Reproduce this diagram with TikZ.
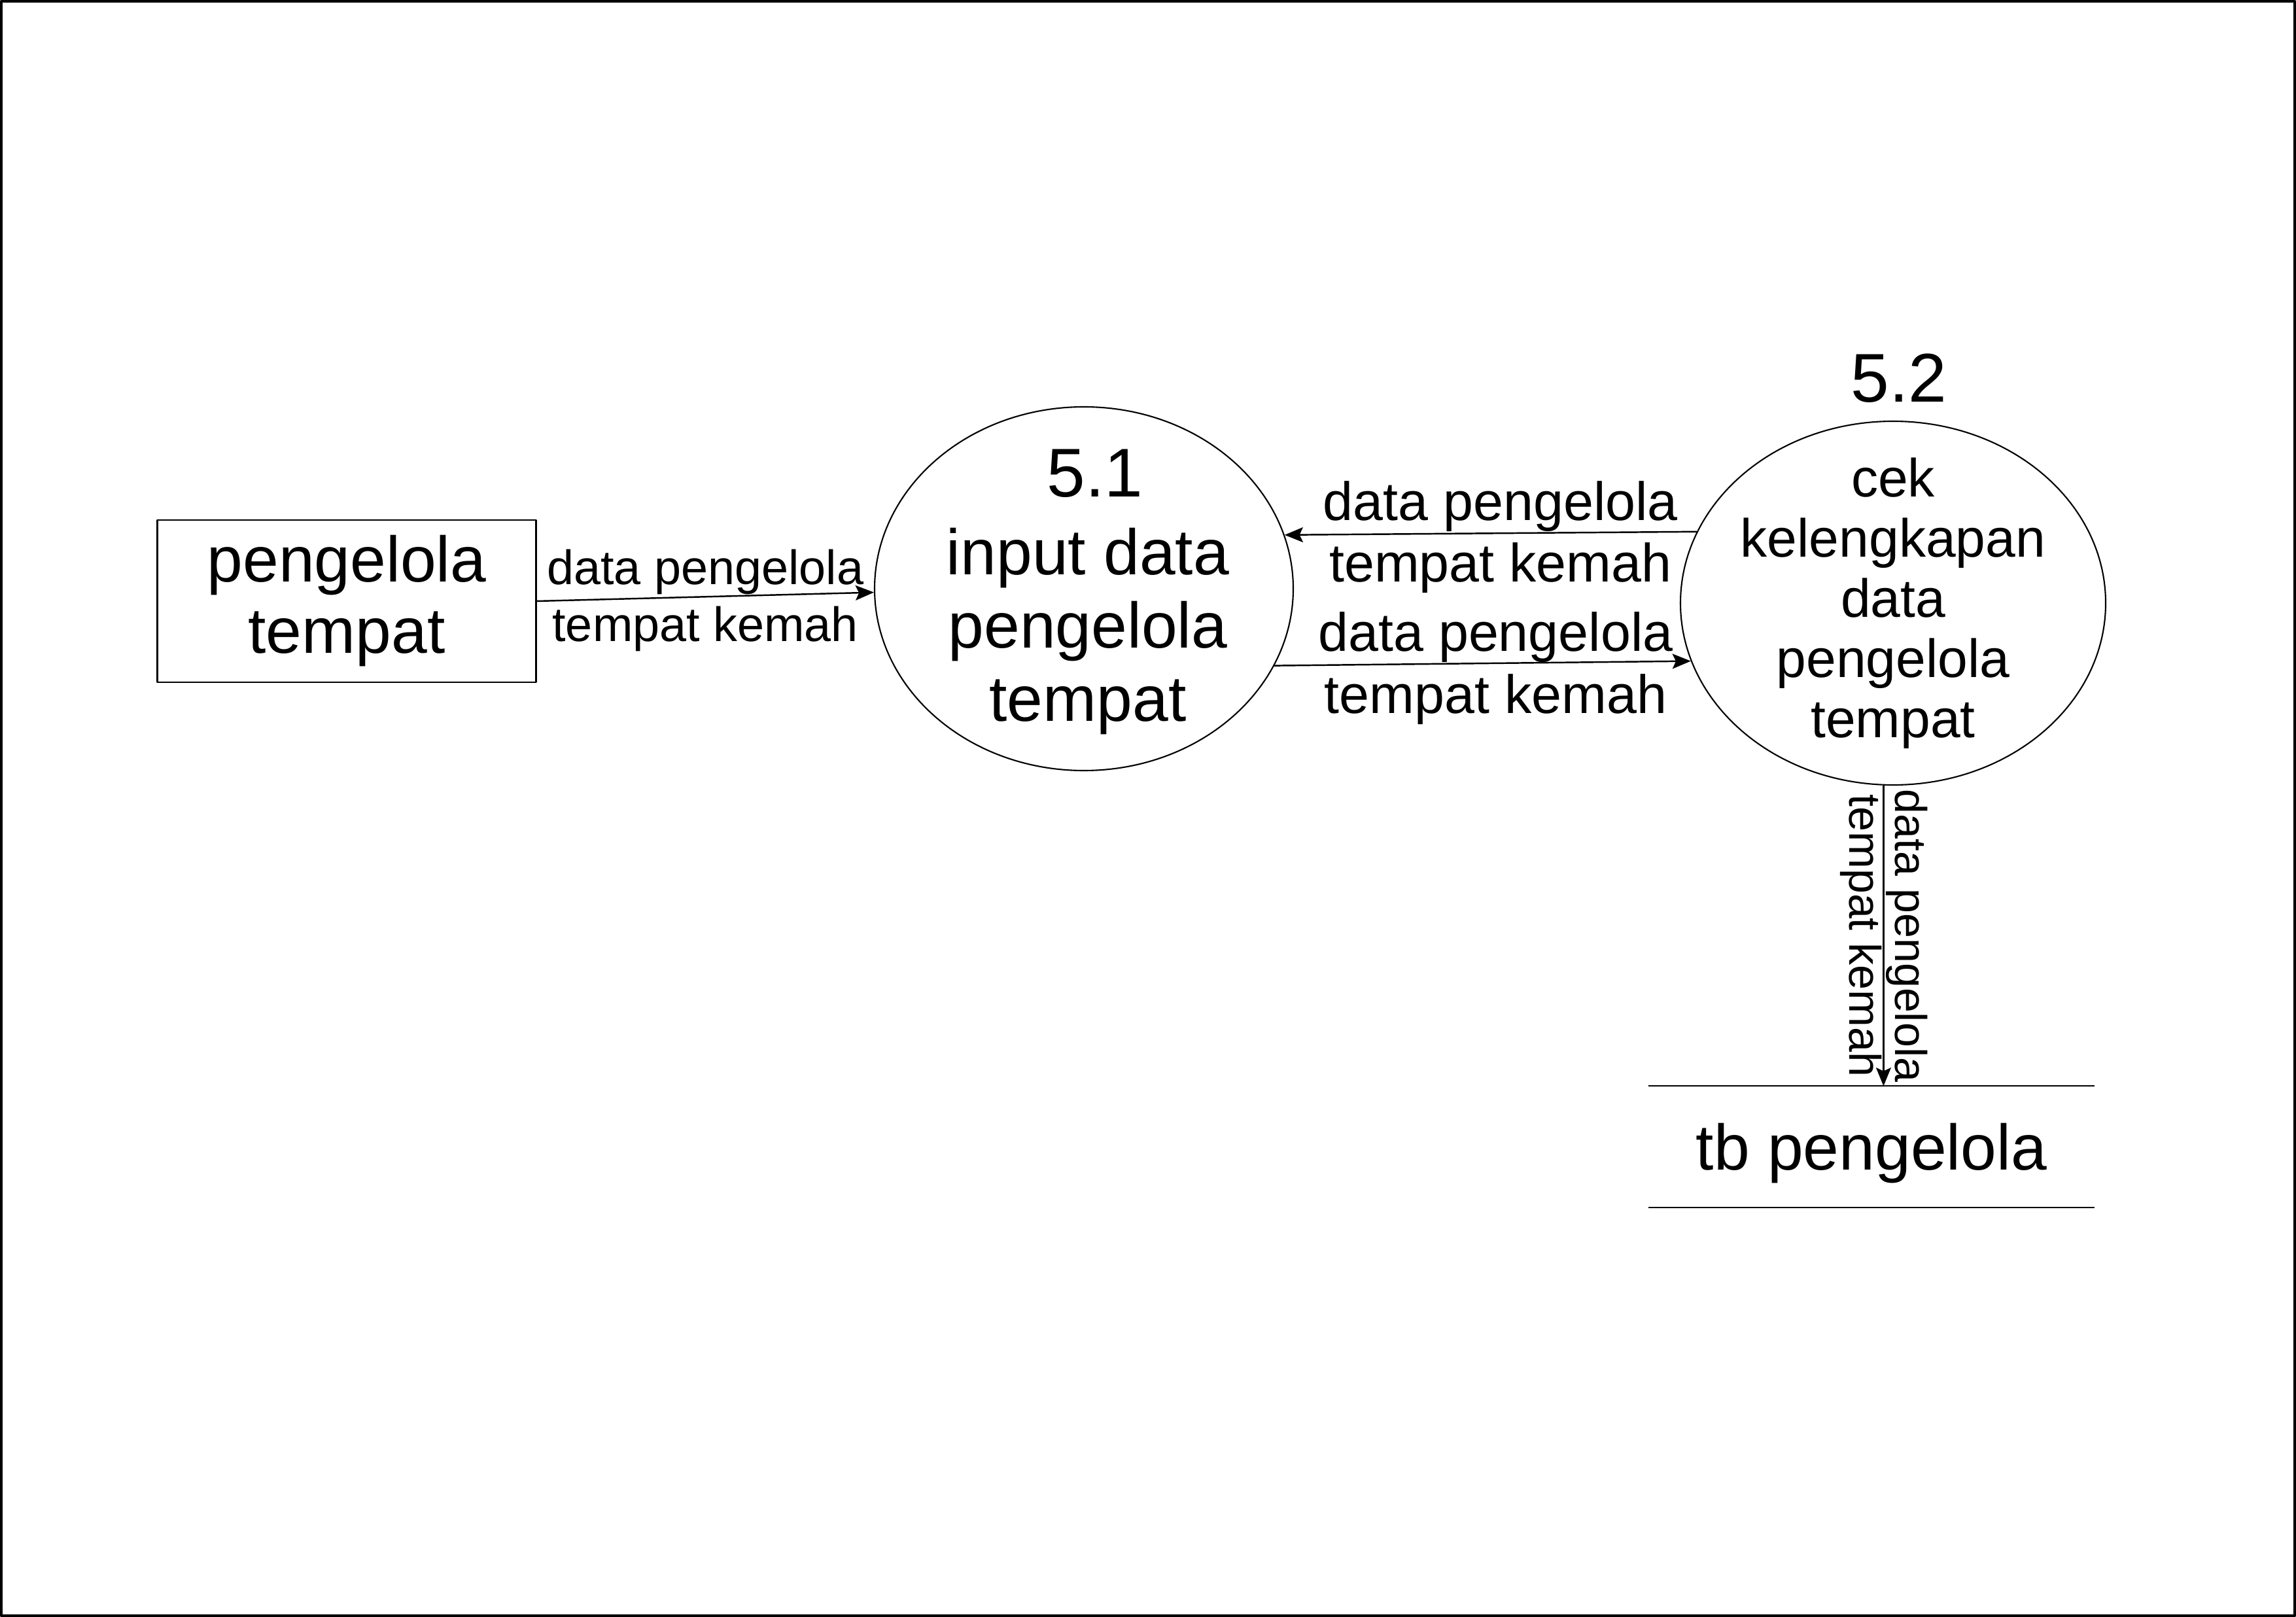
\documentclass[tikz,border=0pt]{standalone}
\usepackage{fontspec}
\setmainfont{Liberation Sans}
\usetikzlibrary{arrows.meta,positioning,shapes.geometric,calc}

\begin{document}
\begin{tikzpicture}[line join=round,
  entity/.style={draw,line width=0.6pt,minimum width=5.79cm,minimum height=2.48cm,align=center,font=\fontsize{28}{31}\selectfont},
  process/.style={draw,ellipse,line width=0.6pt,inner sep=0pt},
  ptext/.style={align=center,inner sep=0pt},
  store/.style={minimum width=6.8cm,minimum height=1.84cm,inner sep=0pt,font=\fontsize{28}{31}\selectfont},
  flow/.style={line width=0.7pt,-{Stealth[length=8pt,width=6.5pt,inset=1.5pt]}},
  lbl/.style={inner sep=0pt,font=\fontsize{#1}{#1}\selectfont},
  lbl/.default=23]
\useasboundingbox (0,0) rectangle (35.1,-24.72);
\draw[line width=1.2pt] (0.02,-0.02) rectangle (35.08,-24.70);
% external entity
\node[entity] (pengelola) at (5.30,-9.19) {pengelola\\tempat};
% processes
\node[process,minimum width=6.40cm,minimum height=5.56cm] (p51) at (16.57,-9.00) {};
\node[ptext,font=\fontsize{30}{30}\selectfont] (n51) at (16.74,-7.24) {5.1};
\node[ptext,font=\fontsize{28}{31.8}\selectfont] (t51) at (16.63,-9.65) {input data\\pengelola\\tempat};
\node[process,minimum width=6.50cm,minimum height=5.56cm] (p52) at (28.94,-9.22) {};
\node[ptext,font=\fontsize{30}{30}\selectfont] (n52) at (29.03,-5.78) {5.2};
\node[ptext,font=\fontsize{23.4}{26.2}\selectfont] (t52) at (28.94,-9.22) {cek\\kelengkapan\\data\\pengelola\\tempat};
% data store
\node[store,text depth=0pt] (tb) at (28.61,-17.53) {tb pengelola};
\draw[line width=0.6pt] (tb.north west) -- (tb.north east);
\draw[line width=0.6pt] (tb.south west) -- (tb.south east);
% data flows
\draw[flow] (pengelola.east) -- (p51.181)
  node[midway,above=0.2mm,lbl=21] (l1a) {data pengelola}
  node[midway,below=1.3mm,lbl=21] (l1b) {tempat kemah};
\draw[flow] (p52.160.5) -- (p51.15.2)
  node[midway,above=0.1mm,xshift=1.5mm,lbl=23.5] (l2a) {data pengelola}
  node[midway,below=1.3mm,xshift=1.5mm,lbl=23.5] (l2b) {tempat kemah};
\draw[flow] (p51.-22.3) -- (p52.196.8)
  node[midway,above=0mm,xshift=2mm,lbl=23.5] (l3a) {data pengelola}
  node[midway,below=1.5mm,xshift=2mm,lbl=23.5] (l3b) {tempat kemah};
\draw[flow] (p52.267) -- (p52.267 |- tb.north)
  node[midway,xshift=3.6mm,rotate=-90,lbl=19.4] (l4a) {data pengelola}
  node[midway,xshift=-3.4mm,rotate=-90,lbl=19.4] (l4b) {tempat kemah};
\end{tikzpicture}
\end{document}
